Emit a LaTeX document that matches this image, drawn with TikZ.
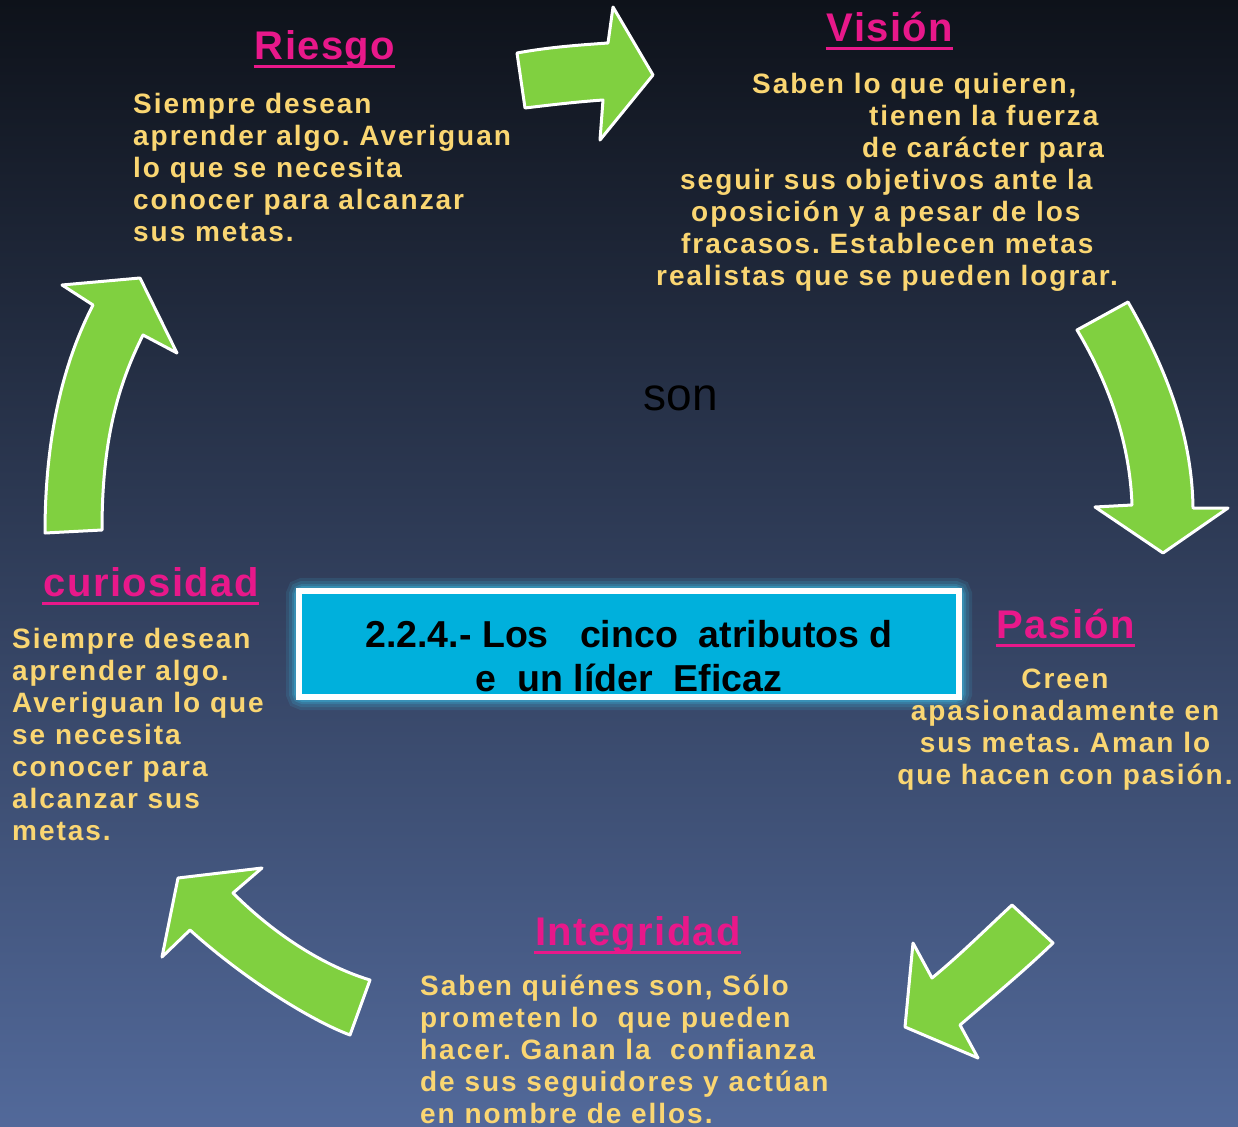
\documentclass[tikz,border=0pt]{standalone}
\usepackage{fontspec}
\setmainfont{Liberation Sans}
\newfontfamily\bodyfont[LetterSpace=7]{Liberation Sans}
\newfontfamily\titlefont[LetterSpace=3.5]{Liberation Sans}
\usepackage{xcolor}
\definecolor{bgtop}{RGB}{14,18,26}
\definecolor{bgmid}{RGB}{44,56,80}
\definecolor{bgbot}{RGB}{82,105,154}
\definecolor{arrowgreen}{RGB}{128,208,64}
\definecolor{textgold}{RGB}{250,214,114}
\definecolor{titlepink}{RGB}{232,24,138}
\definecolor{boxcyan}{RGB}{0,176,220}
\definecolor{glowcyan}{RGB}{60,200,240}
\frenchspacing
\tikzset{
    big-arrow/.style = {fill=arrowgreen, draw=white, line width=3pt, line join=round},
    topic-title/.style = {text=titlepink, font=\titlefont\bfseries\fontsize{40}{44}\selectfont, inner sep=0pt, anchor=base},
    topic-text/.style = {text=textgold, font=\bodyfont\bfseries\fontsize{28}{32}\selectfont, inner sep=0pt, anchor=base west, align=left},
    title-line/.style = {titlepink, line width=3pt},
    title-box/.style = {fill=boxcyan, draw=white, line width=6pt, minimum width=660pt, minimum height=106pt, inner sep=0pt},
    title-text/.style = {font=\bfseries\fontsize{37.5}{44}\selectfont, align=center, inner sep=0pt, anchor=base},
}

\begin{document}
\begin{tikzpicture}[x=1pt, y=-1pt]
\useasboundingbox (0,0) rectangle (1238,1126);
\shade[top color=bgtop, middle color=bgmid, bottom color=bgbot] (0,0) rectangle (1238,1126);

% arrows round the circle
\draw[big-arrow] (517,53) .. controls (550,47) and (580,45) .. (608,43) -- (613,7) -- (653,75) -- (600,140) -- (603,100) .. controls (575,102) and (550,105) .. (525,108) -- cycle;
\draw[big-arrow] (1077,330) -- (1128,302) .. controls (1170,375) and (1192,440) .. (1193,508) -- (1228,508) -- (1163,553) -- (1095,507) -- (1132,505) .. controls (1130,445) and (1110,385) .. (1077,330) -- cycle;
\draw[big-arrow] (1012,905) -- (1053,943) .. controls (1025,970) and (995,995) .. (960,1025) -- (978,1058) -- (905,1027) -- (913,943) -- (932,978) .. controls (960,955) and (985,930) .. (1012,905) -- cycle;
\draw[big-arrow] (178,878) -- (262,868) -- (233,893) .. controls (275,935) and (324,966) .. (370,980) -- (350,1035) .. controls (310,1020) and (243,978) .. (190,930) -- (162,957) -- cycle;
\draw[big-arrow] (45,533) -- (102,530) .. controls (102,440) and (118,385) .. (143,335) -- (177,353) -- (140,278) -- (62,285) -- (93,305) .. controls (62,365) and (45,440) .. (45,533) -- cycle;

% centre box with glow
\foreach \w/\o in {26/0.12, 20/0.15, 14/0.2, 10/0.3}
    \draw[glowcyan, line width=\w pt, opacity=\o, rounded corners=4pt] (299,591) rectangle (959,697);
\node[title-box] (box) at (629,644) {};
\node[title-text] (heading) at (629,691) {2.2.4.- Los\ \ \ cinco\ \ atributos d\\e\ \ un líder\ \ Eficaz};

\node[font=\fontsize{46}{50}\selectfont, anchor=base, inner sep=0pt] (son) at (681,410) {son};

% titles
\node[topic-title] (riesgo) at (325,60) {Riesgo};
\node[topic-title] (vision) at (890,42) {Visión};
\node[topic-title] (curiosidad) at (151,596) {curiosidad};
\node[topic-title] (pasion) at (1066,638) {Pasión};
\node[topic-title] (integridad) at (638,945) {Integridad};
\foreach \t in {riesgo, vision, curiosidad, pasion, integridad}
    \draw[title-line] ([xshift=-1pt, yshift=-7pt]\t.base west) -- ([yshift=-7pt]\t.base east);

% texts (anchored at the baseline of their last line)
\node[topic-text] (riesgo-text) at (133,241) {Siempre desean\\aprender algo. Averiguan\\lo que se necesita\\conocer para alcanzar\\sus metas.};
\node[topic-text] (vision-text) at (656,285) {\hspace*{96pt}Saben lo que quieren,\\\hspace*{213pt}tienen la fuerza\\\hspace*{206pt}de carácter para\\\hspace*{24pt}seguir sus objetivos ante la\\\hspace*{35pt}oposición y a pesar de los\\\hspace*{25pt}fracasos. Establecen metas\\realistas que se pueden lograr.};
\node[topic-text] (curiosidad-text) at (12,840) {Siempre desean\\aprender algo.\\Averiguan lo que\\se necesita\\conocer para\\alcanzar sus\\metas.};
\node[topic-text, anchor=base, align=center] (pasion-text) at (1065,784) {Creen\\apasionadamente en\\sus metas. Aman lo\\que hacen con pasión.};
\node[topic-text] (integridad-text) at (420,1123) {Saben quiénes son, Sólo\\prometen lo\ \ que pueden\\hacer. Ganan la\ \ confianza\\de sus seguidores y actúan\\en nombre de ellos.};
\end{tikzpicture}
\end{document}
